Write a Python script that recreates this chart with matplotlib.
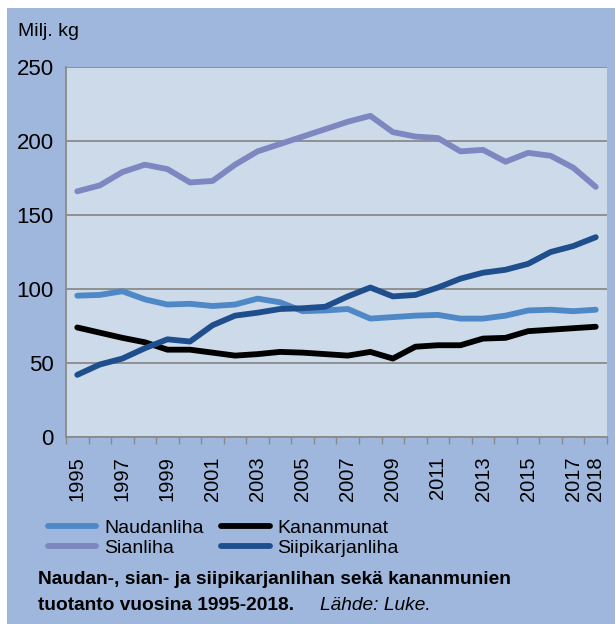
import matplotlib.pyplot as plt
from matplotlib.patches import Rectangle
import numpy as np

# Tiedot (milj. kg)
vuodet = list(range(1995, 2019))
naudanliha = [95.5, 96, 98.5, 93, 89.5, 90, 88.5, 89.5, 93.5, 91, 85, 85.5,
              86.5, 80, 81, 82, 82.5, 80, 80, 82, 85.5, 86, 85, 86]
sianliha = [166, 170, 179, 184, 181, 172, 173, 184, 193, 198, 203, 208,
            213, 217, 206, 203, 202, 193, 194, 186, 192, 190, 182, 169]
kananmunat = [74, 70.5, 67, 64, 59, 59, 57, 55, 56, 57.5, 57, 56,
              55, 57.5, 53, 61, 62, 62, 66.5, 67, 71.5, 72.5, 73.5, 74.5]
siipikarjanliha = [42, 49, 53, 60, 66, 64.5, 75.5, 82, 84, 86.5, 87, 88,
                   95, 101, 95, 96, 101, 107, 111, 113, 117, 125, 129, 135]
tick_vuodet = [1995, 1997, 1999, 2001, 2003, 2005, 2007, 2009, 2011, 2013, 2015, 2017, 2018]

plt.rcParams['font.family'] = ['Liberation Sans', 'DejaVu Sans']

W, H = 615, 624
fig = plt.figure(figsize=(W / 100, H / 100), dpi=100, facecolor='white')

# Sininen tausta
fig.patches.append(Rectangle((7 / W, 0), 1 - 7 / W, 1 - 8 / H, transform=fig.transFigure,
                             facecolor='#9FB7DC', edgecolor='none', zorder=-1))

ax = fig.add_axes([66 / W, 1 - 437 / H, (607 - 66) / W, (437 - 67) / H])
ax.set_facecolor('#CDDAEA')

x = np.arange(len(vuodet))
lw = 4.2
ax.plot(x, naudanliha, color='#4F88C6', lw=lw, solid_capstyle='round', label='Naudanliha')
ax.plot(x, sianliha, color='#7E87C0', lw=lw, solid_capstyle='round', label='Sianliha')
ax.plot(x, kananmunat, color='#000000', lw=lw, solid_capstyle='round', label='Kananmunat')
ax.plot(x, siipikarjanliha, color='#1F4E8D', lw=lw, solid_capstyle='round', label='Siipikarjanliha')

ax.set_xlim(-0.5, len(vuodet) - 0.5)
ax.set_ylim(0, 250)
ax.set_yticks([0, 50, 100, 150, 200, 250])
ax.grid(axis='y', color='#8A8A8A', lw=1.3)
ax.set_axisbelow(True)

ax.set_xticks(np.arange(len(vuodet) + 1) - 0.5, minor=False)
ax.set_xticklabels([])
ax.tick_params(axis='x', which='major', length=5, color='#8A8A8A', width=1)
ax.set_xticks([vuodet.index(v) for v in tick_vuodet], minor=True)
ax.set_xticklabels([str(v) for v in tick_vuodet], minor=True, rotation=90, fontsize=14.5)
ax.tick_params(axis='x', which='minor', length=0, pad=14)
ax.tick_params(axis='y', length=0, labelsize=16, pad=9)

ax.spines['right'].set_visible(False)
ax.spines['top'].set_visible(False)
for s in ['left', 'bottom']:
    ax.spines[s].set_color('#8A8A8A')
    ax.spines[s].set_linewidth(1.3)

fig.text(18 / W, 1 - 31 / H, 'Milj. kg', fontsize=14, va='center', ha='left')

handles, labels = ax.get_legend_handles_labels()
leg = fig.legend(handles, labels,
                 loc='center left', bbox_to_anchor=(38 / W, 1 - 538 / H), ncol=2,
                 frameon=False, fontsize=14, handlelength=2.5, handletextpad=0.4,
                 columnspacing=0.9, labelspacing=0.1, borderpad=0)

fig.text(38 / W, 1 - 579 / H, 'Naudan-, sian- ja siipikarjanlihan sekä kananmunien',
         fontsize=13.8, fontweight='bold', va='center', ha='left')
fig.text(38 / W, 1 - 606 / H, 'tuotanto vuosina 1995-2018.',
         fontsize=13.8, fontweight='bold', va='center', ha='left')
fig.text(320 / W, 1 - 606 / H, 'Lähde: Luke.', fontsize=13.8, style='italic',
         va='center', ha='left')

fig.savefig('out.png', dpi=100, facecolor='white')
